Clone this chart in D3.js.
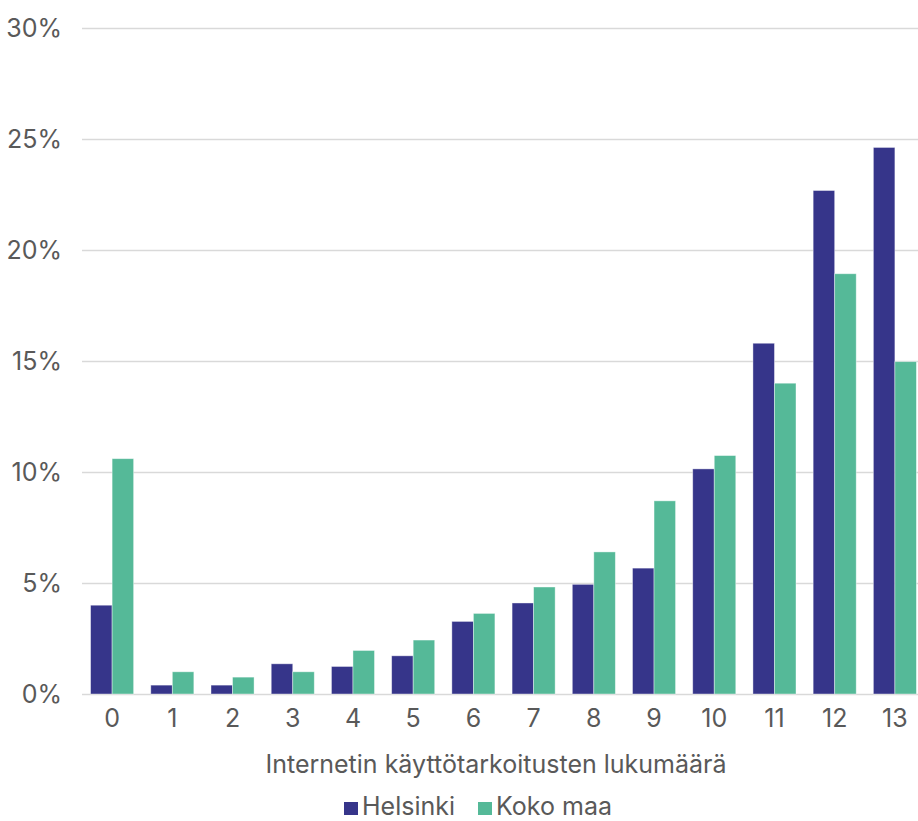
<!DOCTYPE html>
<html><head><meta charset="utf-8">
<script src="https://cdn.jsdelivr.net/npm/d3@7"></script>
<style>
html,body{margin:0;padding:0;background:#fff;}
svg{display:block;font-family:Inter,"Noto Sans",sans-serif;}
</style></head>
<body><svg id="chart" width="918" height="821"></svg>
<script>
const categories = ["0","1","2","3","4","5","6","7","8","9","10","11","12","13"];
const seriesNames = ["Helsinki","Koko maa"];
const helsinki = [4.0,0.4,0.4,1.36,1.24,1.72,3.27,4.1,4.94,5.67,10.14,15.8,22.68,24.62];
const kokoMaa = [10.6,1.0,0.76,1.0,1.96,2.43,3.63,4.82,6.4,8.7,10.74,14.0,18.93,14.97];
const yTicks = [0,5,10,15,20,25,30];
const colors = ["#36358a","#55b998"];

const svg = d3.select("#chart");
const m = {left:82, right:925, top:28, bottom:694};
const x0 = d3.scaleBand().domain(categories).range([m.left,m.right]).paddingInner(0.285).paddingOuter(0.1425);
const x1 = d3.scaleBand().domain(seriesNames).range([0,x0.bandwidth()]);
const y = d3.scaleLinear().domain([0,30]).range([m.bottom,m.top]);
const textColor = "#595959";
const fs = 25;

// gridlines
const yAxis = d3.axisLeft(y).tickValues(yTicks).tickFormat(d=>d+"%").tickSize(0).tickPadding(0);
const gy = svg.append("g").attr("transform",`translate(${m.left},0)`).call(yAxis);
gy.select(".domain").remove();
gy.selectAll(".tick line").remove();
gy.selectAll(".tick").append("line").attr("x1",0).attr("x2",918-m.left).attr("stroke","#d9d9d9").attr("stroke-width",1.5);
gy.selectAll(".tick text").attr("x",-20).attr("fill",textColor).attr("font-size",fs).attr("font-family","Inter");

const data = categories.map((c,i)=>({cat:c, vals:[helsinki[i],kokoMaa[i]]}));
const groups = svg.append("g").selectAll("g").data(data).join("g").attr("transform",d=>`translate(${x0(d.cat)},0)`);
groups.selectAll("rect").data(d=>d.vals.map((v,j)=>({name:seriesNames[j],v,j}))).join("rect")
  .attr("x",d=>x1(d.name)).attr("width",x1.bandwidth())
  .attr("y",d=>y(d.v)).attr("height",d=>y(0)-y(d.v))
  .attr("fill",d=>colors[d.j]).attr("stroke","rgba(255,255,255,0.5)").attr("stroke-width",0.8);

// x axis
const xAxis = d3.axisBottom(x0).tickSize(0).tickPadding(0);
const gx = svg.append("g").attr("transform",`translate(0,${m.bottom})`).call(xAxis);
gx.select(".domain").remove();
gx.selectAll(".tick text").attr("dy",0).attr("y",33).attr("fill",textColor).attr("font-size",fs).attr("font-family","Inter");

svg.append("text").attr("x",496).attr("y",773).attr("text-anchor","middle").attr("fill",textColor)
  .attr("font-size",fs).text("Internetin käyttötarkoitusten lukumäärä");

// legend
const legendX = [344,478];
const lg = svg.append("g").selectAll("g").data(seriesNames).join("g").attr("transform",(d,i)=>`translate(${legendX[i]},0)`);
lg.append("rect").attr("x",0).attr("y",802).attr("width",14).attr("height",13).attr("fill",(d,i)=>colors[i]);
lg.append("text").attr("x",18).attr("y",815).attr("fill",textColor).attr("font-size",fs).text(d=>d);
</script></body></html>
